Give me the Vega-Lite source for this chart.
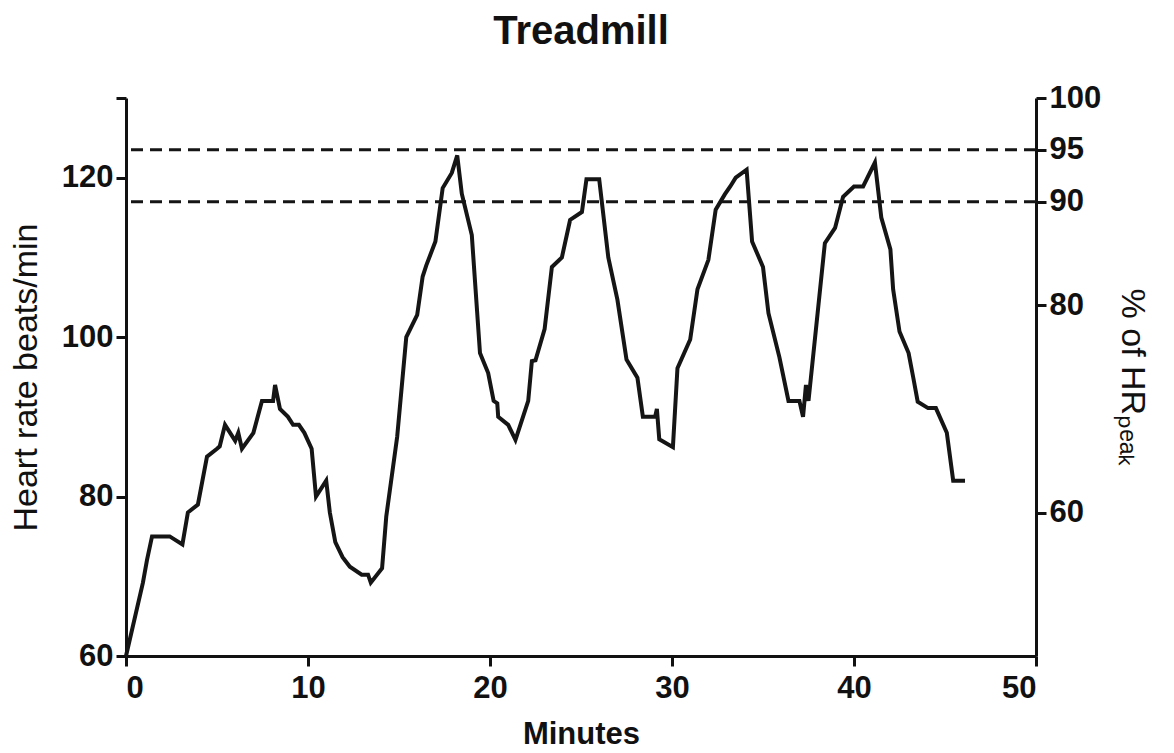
{
  "$schema": "https://vega.github.io/schema/vega-lite/v6.json",
  "width": 910,
  "height": 558,
  "autosize": "none",
  "padding": {"left": 126, "top": 98, "right": 138, "bottom": 97},
  "background": "white",
  "title": {
    "text": "Treadmill",
    "font": "Liberation Sans",
    "fontSize": 40,
    "fontWeight": "bold",
    "color": "#111111",
    "anchor": "middle",
    "offset": 30
  },
  "config": {
    "view": {"stroke": null},
    "axis": {
      "grid": false,
      "domainColor": "#111111",
      "domainWidth": 3,
      "tickColor": "#111111",
      "tickWidth": 3,
      "tickSize": 10,
      "labelFont": "Liberation Sans",
      "labelFontWeight": "bold",
      "labelFontSize": 31,
      "labelColor": "#111111",
      "titleFont": "Liberation Sans",
      "titleFontSize": 34,
      "titleColor": "#111111"
    }
  },
  "layer": [
    {
      "data": {
        "values": [
          {"minute": 0, "hr": 60},
          {"minute": 0.93, "hr": 69.2},
          {"minute": 1.15, "hr": 72},
          {"minute": 1.43, "hr": 75},
          {"minute": 2.4, "hr": 75},
          {"minute": 3.1, "hr": 74},
          {"minute": 3.4, "hr": 78},
          {"minute": 3.95, "hr": 79},
          {"minute": 4.45, "hr": 85},
          {"minute": 5.0, "hr": 86},
          {"minute": 5.15, "hr": 86.3},
          {"minute": 5.44, "hr": 89},
          {"minute": 6.0, "hr": 87},
          {"minute": 6.17, "hr": 88},
          {"minute": 6.37, "hr": 86},
          {"minute": 7.0, "hr": 88},
          {"minute": 7.47, "hr": 92},
          {"minute": 8.08, "hr": 92},
          {"minute": 8.19, "hr": 94},
          {"minute": 8.46, "hr": 91},
          {"minute": 8.9, "hr": 90},
          {"minute": 9.18, "hr": 89},
          {"minute": 9.5, "hr": 89},
          {"minute": 9.8, "hr": 88},
          {"minute": 10.2, "hr": 86},
          {"minute": 10.44, "hr": 80},
          {"minute": 11.0, "hr": 82},
          {"minute": 11.2, "hr": 78},
          {"minute": 11.5, "hr": 74.3},
          {"minute": 11.9, "hr": 72.4},
          {"minute": 12.3, "hr": 71.2},
          {"minute": 12.95, "hr": 70.2},
          {"minute": 13.3, "hr": 70.2},
          {"minute": 13.45, "hr": 69.2},
          {"minute": 14.07, "hr": 71},
          {"minute": 14.3, "hr": 77.5},
          {"minute": 14.9, "hr": 87.5},
          {"minute": 15.4, "hr": 100},
          {"minute": 16.0, "hr": 102.8},
          {"minute": 16.3, "hr": 107.6},
          {"minute": 16.5, "hr": 109},
          {"minute": 17.0, "hr": 112},
          {"minute": 17.4, "hr": 118.7},
          {"minute": 17.9, "hr": 120.6},
          {"minute": 18.2, "hr": 122.8},
          {"minute": 18.45, "hr": 118},
          {"minute": 19.0, "hr": 112.8},
          {"minute": 19.45, "hr": 98},
          {"minute": 19.9, "hr": 95.5},
          {"minute": 20.2, "hr": 92},
          {"minute": 20.4, "hr": 91.7},
          {"minute": 20.45, "hr": 90},
          {"minute": 21.0, "hr": 89},
          {"minute": 21.4, "hr": 87.1},
          {"minute": 22.1, "hr": 92},
          {"minute": 22.3, "hr": 97},
          {"minute": 22.5, "hr": 97.1},
          {"minute": 23.0, "hr": 101},
          {"minute": 23.4, "hr": 108.8},
          {"minute": 23.95, "hr": 110},
          {"minute": 24.4, "hr": 114.7},
          {"minute": 25.05, "hr": 115.7},
          {"minute": 25.3, "hr": 119.8},
          {"minute": 26.0, "hr": 119.8},
          {"minute": 26.5, "hr": 110},
          {"minute": 27.0, "hr": 104.7},
          {"minute": 27.5, "hr": 97.2},
          {"minute": 28.1, "hr": 94.9},
          {"minute": 28.4, "hr": 90},
          {"minute": 29.07, "hr": 90},
          {"minute": 29.17, "hr": 91},
          {"minute": 29.3, "hr": 87.2},
          {"minute": 30.05, "hr": 86.2},
          {"minute": 30.3, "hr": 96.1},
          {"minute": 31.0, "hr": 99.7},
          {"minute": 31.4, "hr": 106},
          {"minute": 32.0, "hr": 109.7},
          {"minute": 32.4, "hr": 116},
          {"minute": 32.9, "hr": 117.9},
          {"minute": 33.2, "hr": 118.9},
          {"minute": 33.5, "hr": 120},
          {"minute": 34.1, "hr": 121},
          {"minute": 34.4, "hr": 112},
          {"minute": 35.0, "hr": 108.8},
          {"minute": 35.3, "hr": 103},
          {"minute": 35.9, "hr": 97.5},
          {"minute": 36.4, "hr": 92},
          {"minute": 37.0, "hr": 92},
          {"minute": 37.2, "hr": 90},
          {"minute": 37.36, "hr": 94},
          {"minute": 37.5, "hr": 92},
          {"minute": 38.0, "hr": 103},
          {"minute": 38.4, "hr": 111.8},
          {"minute": 38.96, "hr": 113.7},
          {"minute": 39.4, "hr": 117.6},
          {"minute": 40.0, "hr": 118.9},
          {"minute": 40.5, "hr": 118.9},
          {"minute": 41.15, "hr": 121.9},
          {"minute": 41.5, "hr": 115},
          {"minute": 42.0, "hr": 111},
          {"minute": 42.15, "hr": 106},
          {"minute": 42.5, "hr": 100.7},
          {"minute": 43.0, "hr": 98},
          {"minute": 43.25, "hr": 95},
          {"minute": 43.5, "hr": 91.9},
          {"minute": 44.07, "hr": 91.1},
          {"minute": 44.5, "hr": 91.1},
          {"minute": 45.1, "hr": 88},
          {"minute": 45.45, "hr": 82},
          {"minute": 46.1, "hr": 82}
        ]
      },
      "mark": {"type": "line", "color": "#151515", "strokeWidth": 4, "strokeJoin": "miter"},
      "encoding": {
        "x": {
          "field": "minute",
          "type": "quantitative",
          "scale": {"domain": [0, 50], "nice": false, "zero": false},
          "axis": {
            "values": [0, 10, 20, 30, 40, 50],
            "title": "Minutes",
            "titleFontWeight": "bold",
            "titleFontSize": 31,
            "labelPadding": 7,
            "titlePadding": 16
          }
        },
        "y": {
          "field": "hr",
          "type": "quantitative",
          "scale": {"domain": [60, 130], "nice": false, "zero": false},
          "axis": {
            "orient": "left",
            "values": [60, 80, 100, 120, 130],
            "labelExpr": "datum.value == 130 ? '' : datum.label",
            "title": "Heart rate beats/min",
            "titleFontWeight": "normal",
            "labelPadding": 3,
            "titlePadding": 18
          }
        }
      }
    },
    {
      "data": {"values": [{"pct": 90}, {"pct": 95}]},
      "mark": {"type": "rule", "color": "#151515", "strokeWidth": 3, "strokeDash": [12, 7]},
      "encoding": {
        "y": {
          "field": "pct",
          "type": "quantitative",
          "scale": {"domain": [46.1538, 100], "nice": false, "zero": false},
          "axis": {
            "orient": "right",
            "values": [60, 80, 90, 95, 100],
            "title": "% of HRₚₑₐₖ",
            "titleFontWeight": "normal",
            "labelPadding": 3,
            "titlePadding": 14
          }
        }
      }
    }
  ],
  "resolve": {"scale": {"y": "independent"}}
}
